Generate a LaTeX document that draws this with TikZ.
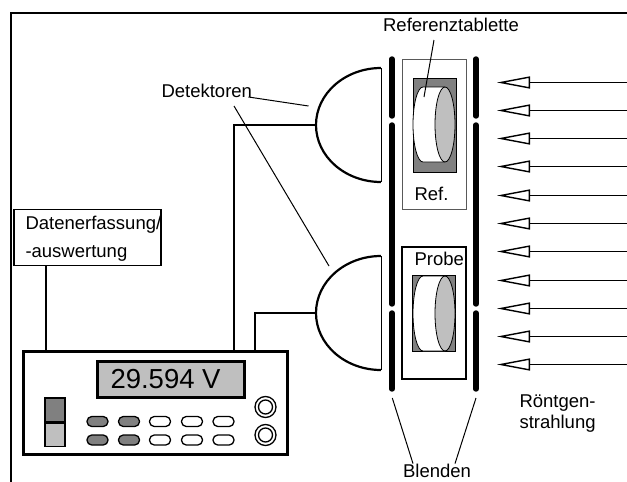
\documentclass[tikz,border=0pt]{standalone}
\usepackage{fontspec}
\setmainfont{Liberation Sans}
\usetikzlibrary{arrows.meta,positioning}
\definecolor{darkgrey}{gray}{0.5}
\definecolor{lightgrey}{gray}{0.75}

\begin{document}
\begin{tikzpicture}[
  x=1pt, y=-1pt,
  line width=1pt,
  label/.style={font=\fontsize{18.5}{21}\selectfont, anchor=base west, inner sep=0pt},
  box/.style={draw=black, fill=white, inner sep=0pt},
  frameline/.style={line width=2.2pt},
  wire/.style={line width=1.5pt},
  leader/.style={line width=1pt},
  slit/.style={line width=5.4pt, line cap=round},
  detector/.style={line width=2.2pt},
  beam/.style={line width=1.5pt, -{Triangle[open, length=33pt, width=12pt, line width=1.4pt]}},
  keypad/.style={draw=black, line width=1.3pt, rounded corners=4.8pt, minimum width=21pt,
                 minimum height=10pt, inner sep=0pt}
]
  \useasboundingbox (0,0) rectangle (627,482);

  % --- Outer frame, open at right and bottom ---
  \coordinate (framebl) at (11,482);
  \coordinate (frametl) at (11,13);
  \coordinate (frametr) at (627,13);
  \draw[frameline] (framebl) -- (frametl) -- (frametr);

  % --- Data box and meter ---
  \node[box, line width=1.5pt, minimum width=147pt, minimum height=56pt] (daten) at (87.5,237.5) {};
  \node[label] (datena) at (25,229) {Datenerfassung/};
  \node[label] (datenb) at (25,257) {-auswertung};

  \node[box, line width=3pt, minimum width=264pt, minimum height=103pt] (meter) at (155,402.5) {};
  \node[draw=black, fill=lightgrey, line width=3.4pt, inner sep=0pt,
        minimum width=147pt, minimum height=36pt] (display) at (171,379.5) {};
  \node[label, font=\fontsize{27.5}{30}\selectfont] (reading) at (110,388) {29.594 V};

  % power switch
  \node[draw=black, fill=darkgrey, line width=1.2pt, inner sep=0pt, minimum width=20pt, minimum height=24pt] (swtop) at (55,410) {};
  \node[draw=black, fill=lightgrey, line width=1.2pt, inner sep=0pt, minimum width=20pt, minimum height=23pt, below=0pt of swtop] (swbot) {};

  % keys
  \foreach \kx/\kfill [count=\ki] in {97.5/darkgrey, 129/darkgrey, 160/white, 192/white, 223.5/white} {
    \node[keypad, fill=\kfill] (keya\ki) at (\kx,421.5) {};
    \node[keypad, fill=\kfill] (keyb\ki) at (\kx,440) {};
  }

  % sockets
  \foreach \ky [count=\ki] in {407,435} {
    \node[circle, draw=black, line width=1.3pt, minimum size=21pt, inner sep=0pt] (jack\ki) at (265.5,\ky) {};
    \node[circle, draw=black, line width=1.3pt, minimum size=14pt, inner sep=0pt] at (jack\ki.center) {};
  }

  % --- Detectors ---
  \foreach \dy [count=\di] in {125,313} {
    \coordinate (det\di) at (317,\dy);
    \draw[line width=0.9pt] (381,\dy-57) -- (381,\dy+57);
    \draw[detector] (381,\dy-57) arc[start angle=90, end angle=270, x radius=65pt, y radius=57pt];
  }

  % --- Wires ---
  \draw[wire] (daten.south -| 46,0) -- (meter.north -| 46,0);
  \draw[wire] (meter.north -| 234,0) |- (det1);
  \draw[wire] (meter.north -| 255,0) |- (det2);

  % --- Slits ---
  \foreach \sx in {392,476} {
    \draw[slit] (\sx,59) -- (\sx,116);
    \draw[slit] (\sx,125) -- (\sx,304);
    \draw[slit] (\sx,313) -- (\sx,389);
  }

  % --- Sample holders ---
  \node[box, draw=black!65, line width=1pt, minimum width=64pt, minimum height=150pt] (refbox) at (434,134) {};
  \node[box, line width=1.4pt, minimum width=64pt, minimum height=132pt] (probebox) at (434,313) {};
  \node[label] (reflabel) at (414,200) {Ref.};
  \node[label] (probelabel) at (414,265.5) {Probe};

  \node[draw=black, fill=darkgrey, inner sep=0pt, minimum width=43pt, minimum height=94pt] (refdark) at (434.5,125) {};
  \node[draw=black, fill=darkgrey, inner sep=0pt, minimum width=43pt, minimum height=76pt] (probedark) at (434,313) {};

  \foreach \ty in {124.5,313.5} {
    \fill[white] (423,\ty-37.5) arc[start angle=90, end angle=270, x radius=10pt, y radius=37.5pt]
      -- (445,\ty+37.5) -- (445,\ty-37.5) -- cycle;
    \draw[line width=0.8pt] (445,\ty-37.5) -- (423,\ty-37.5)
      arc[start angle=90, end angle=270, x radius=10pt, y radius=37.5pt] -- (445,\ty+37.5);
    \draw[line width=0.8pt, fill=lightgrey] (445,\ty) ellipse[x radius=10pt, y radius=37.5pt];
  }

  % --- X-ray arrows ---
  \foreach \ay [count=\ai] in {82.5,110.5,138.5,166.5,195.5,223.5,251.5,280.5,308.5,336.5,364.5} {
    \coordinate (src\ai) at (627,\ay);
    \coordinate (tip\ai) at (497,\ay);
    \draw[beam] (src\ai) -- (tip\ai);
  }

  % --- Labels and leader lines ---
  \node[label, anchor=base] (tablabel) at (451,31) {Referenztablette};
  \coordinate (tabend) at (424,97);
  \draw[leader] (434,40) -- (tabend);

  \node[label] (detlabel) at (161,97) {Detektoren};
  \coordinate (detenda) at (308.5,106);
  \coordinate (detendb) at (329,266);
  \draw[leader] (detlabel.base east) ++(-4,0) -- (detenda);
  \draw[leader] (234,106) -- (detendb);

  \node[label, anchor=base] (blabel) at (437,477.5) {Blenden};
  \draw[leader] (392.3,398) -- (blabel.north -| 413,0);
  \draw[leader] (476,398) -- (blabel.north -| 455,0);

  \node[label] (xraya) at (519,407.5) {Röntgen-};
  \node[label] (xrayb) at (519,428) {strahlung};
\end{tikzpicture}
\end{document}
